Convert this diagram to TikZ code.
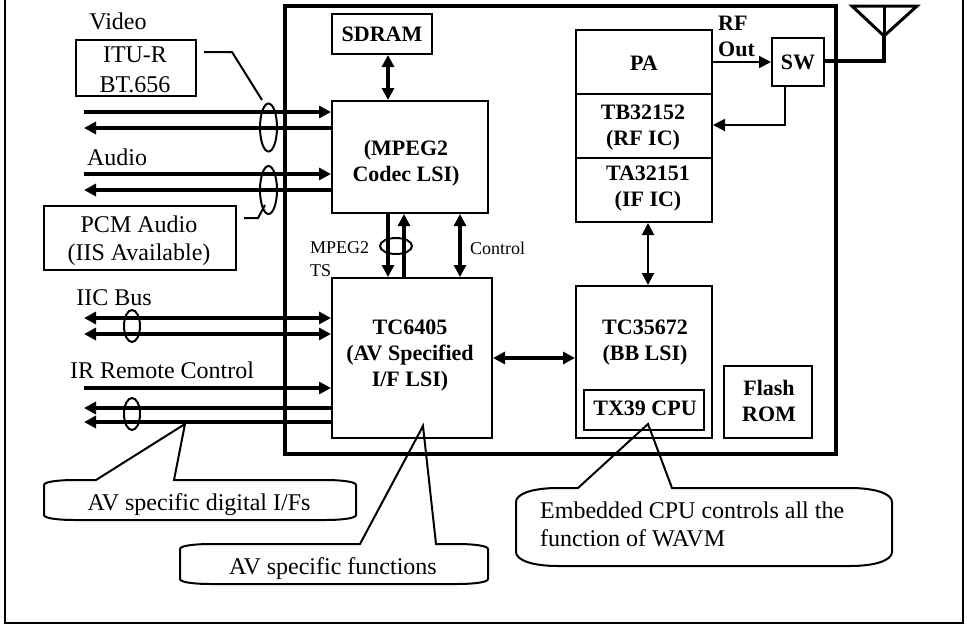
\documentclass[tikz,border=0pt]{standalone}
\usepackage{fontspec}
\setmainfont{Liberation Serif}
\usetikzlibrary{arrows.meta,shapes.geometric}
\tikzset{
  blockbox/.style={draw, line width=2pt, inner sep=0pt, align=center, font=\boldfont},
  plainbox/.style={draw, line width=2pt, inner sep=0pt, align=center, font=\labelfont},
  labeltext/.style={inner sep=0pt, align=center, font=\labelfont},
  boldtext/.style={inner sep=0pt, align=center, font=\boldfont},
  smalltext/.style={inner sep=0pt, align=left, font=\smallfont},
  ring/.style={draw, ellipse, line width=2pt, inner sep=0pt},
  bus/.style={line width=4pt},
  wire/.style={line width=2pt},
  busr/.style={bus, -{Triangle[length=12pt,width=12pt]}},
  busl/.style={bus, {Triangle[length=12pt,width=12pt]}-},
  busb/.style={bus, {Triangle[length=12pt,width=12pt]}-{Triangle[length=12pt,width=12pt]}},
  wirer/.style={wire, -{Triangle[length=12pt,width=12pt]}},
  wireb/.style={wire, {Triangle[length=12pt,width=12pt]}-{Triangle[length=12pt,width=12pt]}},
}
\newcommand{\labelfont}{\fontsize{24}{28}\selectfont}
\newcommand{\boldfont}{\fontsize{22}{26}\selectfont\bfseries}
\newcommand{\smallfont}{\fontsize{18}{23}\selectfont}

\begin{document}
\begin{tikzpicture}[x=1pt, y=-1pt]
  \useasboundingbox (0,0) rectangle (967,625);
  % frames
  \draw[wire] (5,0) -- (5,623) -- (963,623) -- (963,0);
  \draw[line width=4.5pt] (285,6) rectangle (836,454);

  % blocks
  \node[blockbox, minimum width=100pt, minimum height=40pt] (sdram) at (382,34) {SDRAM};
  \node[blockbox, minimum width=156pt, minimum height=112pt] (mpeg) at (410,157) {};
  \node[boldtext] (mpegtext) at (406,163) {(MPEG2\\Codec LSI)};
  \node[blockbox, minimum width=160pt, minimum height=160pt] (tc6405) at (412,358) {};
  \node[boldtext] (tc6405text) at (410,356) {TC6405\\(AV Specified\\I/F LSI)};
  \node[blockbox, minimum width=136pt, minimum height=64pt] (pa) at (644,62) {};
  \node[boldtext] (patext) at (644,63) {PA};
  \node[blockbox, minimum width=136pt, minimum height=64pt] (rfic) at (644,126) {};
  \node[boldtext] (rfictext) at (643,128) {TB32152\\(RF IC)};
  \node[blockbox, minimum width=136pt, minimum height=64pt] (ific) at (644,190) {};
  \node[boldtext] (ifictext) at (648,189) {TA32151\\(IF IC)};
  \node[blockbox, minimum width=52pt, minimum height=48pt] (sw) at (798,62) {SW};
  \node[blockbox, minimum width=136pt, minimum height=152pt] (bb) at (644,362) {};
  \node[boldtext] (bbtext) at (645,343) {TC35672\\(BB LSI)};
  \node[blockbox, minimum width=120pt, minimum height=40pt] (cpu) at (644,410) {};
  \node[boldtext] (cputext) at (645,408) {TX39 CPU};
  \node[blockbox, minimum width=88pt, minimum height=72pt] (flash) at (768,402) {};
  \node[boldtext] (flashtext) at (769,401) {Flash\\ROM};

  % left side labels
  \node[labeltext] (video) at (118,21) {Video};
  \node[plainbox, minimum width=120pt, minimum height=56pt] (itu) at (136,68) {};
  \node[labeltext] (itutext) at (135,70) {ITU-R\\[2pt]BT.656};
  \node[labeltext] (audio) at (117,157) {Audio};
  \node[plainbox, minimum width=192pt, minimum height=64pt] (pcm) at (140,238) {};
  \node[labeltext] (pcmtext) at (139,241) {PCM Audio\\(IIS Available)};
  \node[labeltext] (iic) at (114,298) {IIC Bus};
  \node[labeltext] (irc) at (162,370) {IR Remote Control};

  % free ends of the left buses
  \coordinate (v1) at (84,112);
  \coordinate (v2) at (84,128);
  \coordinate (a1) at (84,174);
  \coordinate (a2) at (84,190);
  \coordinate (i1) at (84,318);
  \coordinate (i2) at (84,334);
  \coordinate (r1) at (84,388);
  \coordinate (r2) at (84,408);
  \coordinate (r3) at (84,422);

  \draw[busr] (v1) -- (v1 -| mpeg.west);
  \draw[busl] (v2) -- (v2 -| mpeg.west);
  \draw[busr] (a1) -- (a1 -| mpeg.west);
  \draw[busl] (a2) -- (a2 -| mpeg.west);
  \draw[busb] (i1) -- (i1 -| tc6405.west);
  \draw[busb] (i2) -- (i2 -| tc6405.west);
  \draw[busr] (r1) -- (r1 -| tc6405.west);
  \draw[busl] (r2) -- (r2 -| tc6405.west);
  \draw[busl] (r3) -- (r3 -| tc6405.west);

  % rings round the buses
  \node[ring, minimum width=17pt, minimum height=48pt] (vring) at (268.5,127.5) {};
  \node[ring, minimum width=17pt, minimum height=48pt] (aring) at (268.5,190) {};
  \node[ring, minimum width=16pt, minimum height=32pt] (iring) at (132,326) {};
  \node[ring, minimum width=16pt, minimum height=32pt] (rring) at (132,414) {};
  \node[ring, minimum width=32pt, minimum height=16pt] (tsring) at (396,246) {};

  % leaders
  \coordinate (itu1) at (204,52);
  \coordinate (itu2) at (232,52);
  \coordinate (ituend) at (262,100);
  \coordinate (pcm1) at (244,218);
  \coordinate (pcm2) at (258,218);
  \coordinate (pcmend) at (265,205);
  \draw[wire] (itu1) -- (itu2) -- (ituend);
  \draw[wire] (pcm1) -- (pcm2) -- (pcmend);

  % inner buses
  \coordinate (sd) at (388,0);
  \coordinate (ts1) at (388,0);
  \coordinate (ts2) at (404,0);
  \coordinate (ctl) at (460,0);
  \coordinate (lnk) at (0,358);
  \coordinate (ifl) at (648,0);
  \draw[busb] (sdram.south -| sd) -- (mpeg.north -| sd);
  \draw[busr] (mpeg.south -| ts1) -- (tc6405.north -| ts1);
  \draw[busr] (tc6405.north -| ts2) -- (mpeg.south -| ts2);
  \draw[busb] (mpeg.south -| ctl) -- (tc6405.north -| ctl);
  \draw[busb] (tc6405.east |- lnk) -- (bb.west |- lnk);
  \draw[wireb] (ific.south -| ifl) -- (bb.north -| ifl);
  \node[smalltext, anchor=north west] (tslabel) at (310,241) {MPEG2\\TS};
  \node[smalltext, anchor=west] (ctllabel) at (470,248) {Control};

  % radio side
  \node[boldtext, anchor=west, align=left] (rfout) at (718,36) {RF\\Out};
  \draw[wirer] (pa.east) -- (sw.west);
  \coordinate (swdown) at (785,125);
  \draw[wirer] (sw.south -| swdown) -- (swdown) -- (rfic.east |- swdown);
  \coordinate (antfoot) at (884,61);
  \coordinate (antmid) at (884,36);
  \coordinate (antleft) at (852,6);
  \coordinate (antright) at (917,6);
  \coordinate (anttop) at (884,6);
  \draw[line width=3.5pt] (sw.east |- antfoot) -- (antfoot) -- (antmid);
  \draw[line width=3pt] (antleft) -- (antmid) -- (antright) -- cycle;
  \draw[line width=3pt] (antmid) -- (anttop);

  % callouts
  \draw[wire] (96,480) -- (185,424) -- (174,480) -- (324,480) .. controls (344,480) and (356,482) .. (356,485) -- (356,515) .. controls (356,518) and (344,520) .. (324,520) -- (76,520) .. controls (56,520) and (44,518) .. (44,515) -- (44,485) .. controls (44,482) and (56,480) .. (76,480) -- cycle;
  \node[labeltext] (digital) at (199,505) {AV specific digital I/Fs};
  \draw[wire] (360,544) -- (423,426) -- (436,544) -- (456,544) .. controls (476,544) and (488,546) .. (488,549) -- (488,579) .. controls (488,582) and (476,584) .. (456,584) -- (212,584) .. controls (192,584) and (180,582) .. (180,579) -- (180,549) .. controls (180,546) and (192,544) .. (212,544) -- cycle;
  \node[labeltext] (functions) at (333,569) {AV specific functions};
  \draw[wire] (578,488) -- (648,424) -- (672,488) -- (850,488) .. controls (876,488) and (892,494) .. (892,502) -- (892,552) .. controls (892,560) and (876,566) .. (850,566) -- (558,566) .. controls (532,566) and (516,560) .. (516,552) -- (516,502) .. controls (516,494) and (532,488) .. (558,488) -- cycle;
  \node[labeltext, anchor=west, align=left] (embedded) at (540,524) {Embedded CPU controls all the\\function of WAVM};
\end{tikzpicture}
\end{document}
